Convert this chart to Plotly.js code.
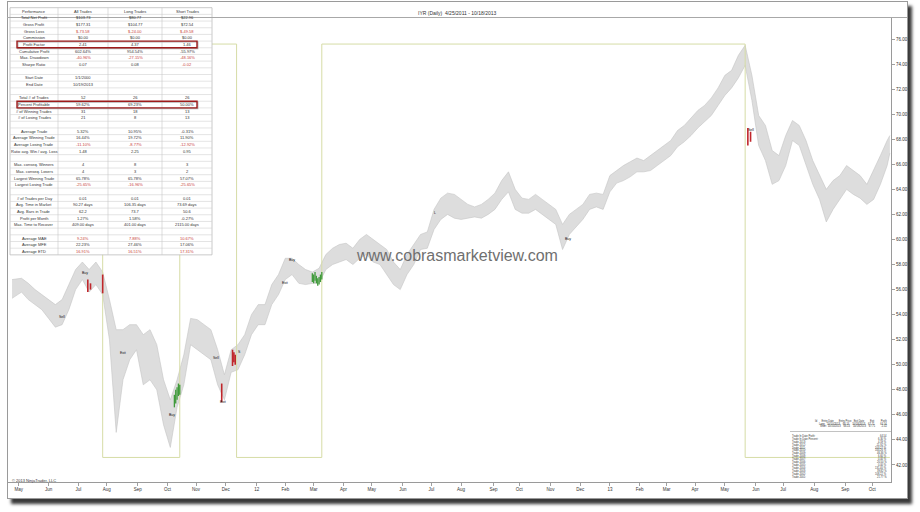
<!DOCTYPE html>
<html><head><meta charset="utf-8">
<script src="https://cdn.plot.ly/plotly-3.0.1.min.js"></script>
<style>
html,body{margin:0;padding:0;background:#fff;}
#wrap{position:relative;width:920px;height:512px;overflow:hidden;background:#fff;}
#frame{position:absolute;left:7px;top:1px;width:899px;height:496px;border:1px solid #9a9a9a;box-shadow:4px 5px 3px #3a3a3a;background:#fff;}
#chart{position:absolute;left:0;top:0;width:920px;height:512px;}
</style></head><body><div id="wrap"><div id="frame"></div><div id="chart"></div></div>
<script>
// ---------------- data ----------------
const weekDates = ['2011-04-25','2011-05-04','2011-05-11','2011-05-18','2011-05-25','2011-06-01','2011-06-08','2011-06-15','2011-06-22','2011-06-29',
'2011-07-06','2011-07-13','2011-07-20','2011-07-27','2011-08-03','2011-08-10','2011-08-17','2011-08-24','2011-08-31','2011-09-07',
'2011-09-14','2011-09-21','2011-09-28','2011-10-05','2011-10-12','2011-10-19','2011-10-26','2011-11-02','2011-11-09','2011-11-16',
'2011-11-23','2011-11-30','2011-12-07','2011-12-14','2011-12-21','2011-12-28','2012-01-04','2012-01-11','2012-01-18','2012-01-25',
'2012-02-01','2012-02-08','2012-02-15','2012-02-22','2012-02-29','2012-03-07','2012-03-14','2012-03-21','2012-03-28','2012-04-04',
'2012-04-11','2012-04-18','2012-04-25','2012-05-02','2012-05-09','2012-05-16','2012-05-23','2012-05-30','2012-06-06','2012-06-13',
'2012-06-20','2012-06-27','2012-07-04','2012-07-11','2012-07-18','2012-07-25','2012-08-01','2012-08-08','2012-08-15','2012-08-22',
'2012-08-29','2012-09-05','2012-09-12','2012-09-19','2012-09-26','2012-10-03','2012-10-10','2012-10-17','2012-10-24','2012-10-31',
'2012-11-07','2012-11-14','2012-11-21','2012-11-28','2012-12-05','2012-12-12','2012-12-19','2012-12-26','2013-01-02','2013-01-09',
'2013-01-16','2013-01-23','2013-01-30','2013-02-06','2013-02-13','2013-02-20','2013-02-27','2013-03-06','2013-03-13','2013-03-20',
'2013-03-27','2013-04-03','2013-04-10','2013-04-17','2013-04-24','2013-05-01','2013-05-08','2013-05-15','2013-05-22','2013-05-29',
'2013-06-05','2013-06-12','2013-06-19','2013-06-26','2013-07-03','2013-07-10','2013-07-17','2013-07-24','2013-07-31','2013-08-07',
'2013-08-14','2013-08-21','2013-08-28','2013-09-04','2013-09-11','2013-09-18','2013-09-25','2013-10-02','2013-10-09','2013-10-16',
'2013-10-18'];
const weekHigh = [56.8,56.9,56.5,56.0,55.6,55.2,54.8,55.2,56.4,57.6,
58.2,57.6,58.2,57.4,55.2,52.8,52.8,53.2,53.2,52.4,
52.8,51.6,48.8,47.2,48.8,50.8,53.7,53.6,53.2,52.8,
51.2,49.2,51.2,51.6,52.4,54.0,54.8,54.8,56.4,57.2,
58.5,58.5,58.0,57.6,57.4,57.7,58.8,59.3,59.6,59.7,
59.3,60.0,60.4,60.0,59.6,59.2,58.2,57.6,58.8,59.6,
60.4,60.6,62.4,63.3,63.7,63.6,63.2,62.8,62.6,62.8,
63.2,63.7,64.7,65.4,64.0,63.3,63.2,63.6,63.2,62.8,
62.4,61.2,62.0,62.4,62.8,63.6,63.7,63.6,65.1,65.5,
65.9,66.2,66.5,66.3,66.7,67.1,67.5,67.9,68.7,69.1,
69.7,70.3,70.7,71.3,72.1,73.1,73.5,74.7,75.5,73.1,
69.9,69.1,67.1,66.7,68.3,69.5,69.1,67.9,66.3,65.1,
64.0,64.7,65.1,65.9,65.5,65.1,64.4,65.5,66.7,67.9,
68.3];
const weekLow = [55.3,55.8,55.2,54.8,54.4,53.7,53.0,53.2,54.4,56.0,
56.8,55.8,56.4,55.6,52.0,44.6,48.8,50.4,51.2,48.4,
48.8,48.0,45.2,43.4,46.6,48.4,51.6,51.2,50.8,50.4,
48.4,47.2,49.4,49.6,50.8,52.4,53.2,53.2,54.8,55.6,
56.8,57.2,56.5,56.4,56.5,56.5,57.6,58.0,58.2,58.4,
58.0,58.5,58.8,58.2,58.0,57.2,56.4,56.0,57.2,58.0,
59.2,59.3,60.8,61.6,62.0,61.7,61.6,61.7,61.8,61.7,
62.0,62.4,63.2,63.8,62.4,62.1,62.1,62.4,62.0,61.6,
61.2,59.2,60.4,61.0,61.6,62.4,62.6,62.4,63.8,64.5,
64.7,65.0,65.4,65.4,65.5,65.9,66.3,66.7,67.4,67.8,
68.3,68.9,69.4,69.9,70.7,71.5,72.1,72.9,73.9,71.1,
67.5,66.3,64.4,64.7,65.9,67.9,67.5,65.9,64.4,63.2,
61.4,62.4,63.2,64.0,63.6,63.3,62.8,63.2,64.4,65.9,
66.9];

const redDates = ['2011-07-12','2011-07-14','2011-07-27','2011-11-28','2011-12-08','2011-12-09','2011-12-12','2013-05-24','2013-05-28'];
const redHigh  = [56.8,56.5,57.2,48.5,51.2,51.0,50.8,68.9,68.6];
const redLow   = [55.8,56.0,55.7,47.0,49.9,50.2,50.0,67.5,67.8];
const greenDates = ['2011-10-10','2011-10-11','2011-10-12','2011-10-13','2011-10-14','2012-02-29','2012-03-01','2012-03-02','2012-03-05','2012-03-06','2012-03-07','2012-03-08','2012-03-09'];
const greenHigh  = [47.6,48.0,48.2,48.5,48.4,57.3,57.2,57.4,57.1,56.9,57.0,57.2,57.4];
const greenLow   = [46.6,46.9,47.2,47.5,47.6,56.6,56.5,56.7,56.5,56.3,56.4,56.6,56.8];

const posDates = ['2011-04-25','2011-07-27','2011-10-14','2011-12-13','2012-03-09','2013-05-22','2013-10-18'];
const posState = [1,0,1,0,1,0,0];

const sigDates  = ['2011-06-15','2011-07-08','2011-08-17','2011-10-06','2011-11-22','2011-11-29','2011-12-15','2012-02-01','2012-02-08','2012-07-05','2012-11-20','2013-05-28'];
const sigPrices = [53.8,57.3,50.9,46.0,50.5,47.0,51.0,56.5,58.4,62.1,60.0,68.7];
const sigText   = ['Sell','Buy','Exit','Buy','Sell','Exit','S','Exit','Buy','L','Buy','Sell'];

const monthTickDates = ['2011-05-02','2011-06-01','2011-07-01','2011-08-01','2011-09-01','2011-10-03','2011-11-01','2011-12-01','2012-01-03','2012-02-01','2012-03-01','2012-04-02','2012-05-01','2012-06-01','2012-07-02','2012-08-01','2012-09-04','2012-10-01','2012-11-01','2012-12-03','2013-01-02','2013-02-01','2013-03-01','2013-04-01','2013-05-01','2013-06-03','2013-07-01','2013-08-01','2013-09-03','2013-10-01'];
const monthTickLabels = ['May','Jun','Jul','Aug','Sep','Oct','Nov','Dec','12','Feb','Mar','Apr','May','Jun','Jul','Aug','Sep','Oct','Nov','Dec','13','Feb','Mar','Apr','May','Jun','Jul','Aug','Sep','Oct'];

const tableHeader = ['Performance','All Trades','Long Trades','Short Trades'];
const rowLabels = ['Total Net Profit','Gross Profit','Gross Loss','Commission','Profit Factor','Cumulative Profit','Max. Drawdown','Sharpe Ratio','',
'Start Date','End Date','','Total # of Trades','Percent Profitable','# of Winning Trades','# of Losing Trades','',
'Average Trade','Average Winning Trade','Average Losing Trade','Ratio avg. Win / avg. Loss','',
'Max. conseq. Winners','Max. conseq. Losers','Largest Winning Trade','Largest Losing Trade','',
'# of Trades per Day','Avg. Time in Market','Avg. Bars in Trade','Profit per Month','Max. Time to Recover','',
'Average MAE','Average MFE','Average ETD'];
const allTrades = ['$103.73','$177.31','$-73.58','$0.00','2.41','602.64%','-40.96%','0.07','',
'1/1/2000','10/19/2013','','52','59.62%','31','21','',
'5.32%','16.44%','-11.10%','1.48','',
'4','4','65.78%','-25.65%','',
'0.01','90.27 days','62.2','1.27%','409.00 days','',
'9.24%','22.23%','16.91%'];
const longTrades = ['$80.77','$104.77','$-24.00','$0.00','4.37','954.54%','-27.15%','0.08','',
'','','','26','69.23%','18','8','',
'10.95%','19.72%','-8.77%','2.25','',
'8','3','65.78%','-16.96%','',
'0.01','106.35 days','73.7','1.58%','401.00 days','',
'7.88%','27.46%','16.51%'];
const shortTrades = ['$22.96','$72.54','$-49.58','$0.00','1.46','-55.97%','-48.16%','-0.02','',
'','','','26','50.00%','13','13','',
'-0.31%','11.90%','-12.92%','0.95','',
'3','2','57.07%','-25.65%','',
'0.01','73.69 days','50.6','-0.27%','2115.00 days','',
'10.67%','17.06%','17.31%'];

const miniHeader = ['Id      Entry Date       Entry Price   Exit Date        Exit         Profit',
                    'Long   10/10/2013    66.14    10/18/2013    67.71        64.54',
                    'Short  10/10/2013    66.14    10/18/2013    67.71        -1.02'];
const miniLabels = ['Trade In Date Profit:','Trade In Date Percent:','Trade 2013:','Trade 2012:','Trade 2011:','Trade 2010:','Trade 2009:','Trade 2008:','Trade 2007:','Trade 2006:','Trade 2005:','Trade 2004:','Trade 2003:','Trade 2002:','Trade 2001:'];
const miniValues = ['64.54','6.30 %','4.59 %','-11.92 %','103.27 %','100.26 %','46.36 %','6.60 %','0.00 %','20.50 %','0.00 %','131.40 %','39.82 %','108.22 %','21.77 %'];

// ---------------- layout helpers ----------------
const W = 920, H = 512;
const px = x => x / W, py = y => (H - y) / H;
const POS_HI = 75.6, POS_LO = 42.6;
const FONT = 'Liberation Sans, Arial, sans-serif';
const RED = '#c8423b';

// vertical bar segments (x,x,null) for highlighted trade bars
const segX = d => d.flatMap(v => [v, v, null]);
const segY = (lo, hi) => lo.flatMap((v, i) => [v, hi[i], null]);

const traces = [];
traces.push({type:'scatter', x: weekDates, y: weekLow, mode:'lines', line:{color:'#c4c4c4', width:0.6}, hoverinfo:'skip', showlegend:false});
traces.push({type:'scatter', x: weekDates, y: weekHigh, mode:'lines', line:{color:'#c4c4c4', width:0.6}, fill:'tonexty', fillcolor:'#dddddd', hoverinfo:'skip', showlegend:false});
traces.push({type:'scatter', x: posDates, y: posState.map(s => s ? POS_HI : POS_LO), mode:'lines', line:{color:'#d6dca6', width:1, shape:'hv'}, hoverinfo:'skip', showlegend:false});
traces.push({type:'scatter', x: segX(redDates), y: segY(redLow, redHigh), mode:'lines', line:{color:'#c0262b', width:1.6}, connectgaps:false, hoverinfo:'skip', showlegend:false});
traces.push({type:'scatter', x: segX(greenDates), y: segY(greenLow, greenHigh), mode:'lines', line:{color:'#3f9a3a', width:1.3}, connectgaps:false, hoverinfo:'skip', showlegend:false});

const annotations = [];
const shapes = [];

// ---- performance table, drawn with shapes + annotations ----
const ROWH = 6.68, TTOP = 7.7, TL = 10, TR = 212;
const colEdges = [10, 58, 108, 162, 212];
const nRows = rowLabels.length + 1;
const TBOT = TTOP + nRows * ROWH;
shapes.push({type:'rect', xref:'paper', yref:'paper', x0:px(TL), x1:px(TR), y0:py(TBOT), y1:py(TTOP), fillcolor:'#ffffff', line:{color:'#bdbdbd', width:0.8}});
for (let i = 1; i < nRows; i++) {
  const y = TTOP + i * ROWH;
  shapes.push({type:'line', xref:'paper', yref:'paper', x0:px(TL), x1:px(TR), y0:py(y), y1:py(y), line:{color:'#d2d2d2', width:0.6}});
}
for (let j = 1; j < colEdges.length - 1; j++) {
  shapes.push({type:'line', xref:'paper', yref:'paper', x0:px(colEdges[j]), x1:px(colEdges[j]), y0:py(TBOT), y1:py(TTOP), line:{color:'#c8c8c8', width:0.6}});
}
const redRows = ['Gross Loss','Max. Drawdown','Average Losing Trade','Largest Losing Trade','Average MAE','Average ETD'];
const cols = [rowLabels, allTrades, longTrades, shortTrades];
const cellText = (t, col, row, color) => annotations.push({xref:'paper', yref:'paper',
  x:px((colEdges[col] + colEdges[col+1]) / 2), y:py(TTOP + (row + 0.5) * ROWH), text:t, showarrow:false,
  font:{family:FONT, size:4, color:color}, xanchor:'center', yanchor:'middle'});
tableHeader.forEach((t, c) => cellText(t, c, 0, '#333'));
cols.forEach((vals, c) => vals.forEach((v, r) => {
  if (!v) return;
  let color = '#333';
  if (c > 0 && redRows.includes(rowLabels[r])) color = RED;
  if (c === 3 && rowLabels[r] === 'Sharpe Ratio') color = RED;
  cellText(v, c, r + 1, color);
}));
// highlight boxes around Profit Factor and Percent Profitable
[rowLabels.indexOf('Profit Factor') + 1, rowLabels.indexOf('Percent Profitable') + 1].forEach(r => {
  shapes.push({type:'rect', xref:'paper', yref:'paper', x0:px(17.8), x1:px(197.8), y0:py(TTOP+(r+1)*ROWH+0.8), y1:py(TTOP+r*ROWH+0.8), line:{color:'#b4b4b4', width:1.3}});
  shapes.push({type:'rect', xref:'paper', yref:'paper', x0:px(17), x1:px(197), y0:py(TTOP+(r+1)*ROWH), y1:py(TTOP+r*ROWH), line:{color:'#9e1b1b', width:1.4}});
});

annotations.push({xref:'paper', yref:'paper', x:px(457), y:py(12.7), text:'IYR (Daily)  4/25/2011 - 10/18/2013', showarrow:false, font:{family:FONT, size:5, color:'#333'}, xanchor:'center', yanchor:'middle'});
annotations.push({xref:'paper', yref:'paper', x:px(457), y:py(255), text:'www.cobrasmarketview.com', showarrow:false, font:{family:FONT, size:16, color:'#6f6f6f'}, xanchor:'center', yanchor:'middle'});
annotations.push({xref:'paper', yref:'paper', x:px(10), y:py(480.5), text:'© 2013 NinjaTrader, LLC', showarrow:false, font:{family:FONT, size:4, color:'#333'}, xanchor:'left', yanchor:'middle'});
sigDates.forEach((d,i) => annotations.push({x:d, y:sigPrices[i], xref:'x', yref:'y', text:sigText[i], showarrow:false, font:{family:FONT, size:3.5, color:'#111'}, xanchor:'center', yanchor:'middle'}));
miniHeader.forEach((t,i) => annotations.push({xref:'paper', yref:'paper', x:px(889), y:py(421 + i*2.6), text:t, showarrow:false, font:{family:FONT, size:2.6, color:'#333'}, xanchor:'right', yanchor:'middle'}));
miniLabels.forEach((t,i) => {
  annotations.push({xref:'paper', yref:'paper', x:px(790), y:py(435.7 + i*2.95), text:t, showarrow:false, font:{family:FONT, size:2.6, color:'#333'}, xanchor:'left', yanchor:'middle'});
  annotations.push({xref:'paper', yref:'paper', x:px(889), y:py(435.7 + i*2.95), text:miniValues[i], showarrow:false, font:{family:FONT, size:2.6, color:'#333'}, xanchor:'right', yanchor:'middle'});
});

shapes.push({type:'line', xref:'paper', yref:'paper', x0:px(7), x1:px(907), y0:py(17.5), y1:py(17.5), line:{color:'#a8a8a8', width:1}});
shapes.push({type:'line', xref:'paper', yref:'paper', x0:px(790), x1:px(891), y0:py(431.5), y1:py(431.5), line:{color:'#999', width:0.6}});

const layout = {
  width: W, height: H,
  margin:{l:0, r:0, t:0, b:0, pad:0},
  paper_bgcolor:'rgba(0,0,0,0)', plot_bgcolor:'#ffffff',
  showlegend:false,
  font:{family:FONT, color:'#333'},
  xaxis:{type:'date', domain:[px(8), px(891)], range:['2011-04-20','2013-10-18 20:00'],
    rangebreaks:[{bounds:['sat','mon']}],
    tickvals: monthTickDates, ticktext: monthTickLabels, ticks:'outside', ticklen:3, tickcolor:'#888', tickwidth:0.8,
    tickfont:{family:FONT, size:4.5, color:'#333'}, showgrid:false, zeroline:false, showline:true, linecolor:'#9a9a9a', linewidth:1, fixedrange:true},
  yaxis:{side:'right', domain:[py(482), py(18)], range:[40.64, 77.68], dtick:2, tick0:0, tickformat:'.2f',
    ticks:'outside', ticklen:3, tickcolor:'#888', tickwidth:0.8, tickfont:{family:FONT, size:4.5, color:'#333'},
    showgrid:false, zeroline:false, showline:true, linecolor:'#9a9a9a', linewidth:1, fixedrange:true},
  annotations, shapes
};

Plotly.newPlot('chart', traces, layout, {staticPlot:true, displayModeBar:false});
</script></body></html>
